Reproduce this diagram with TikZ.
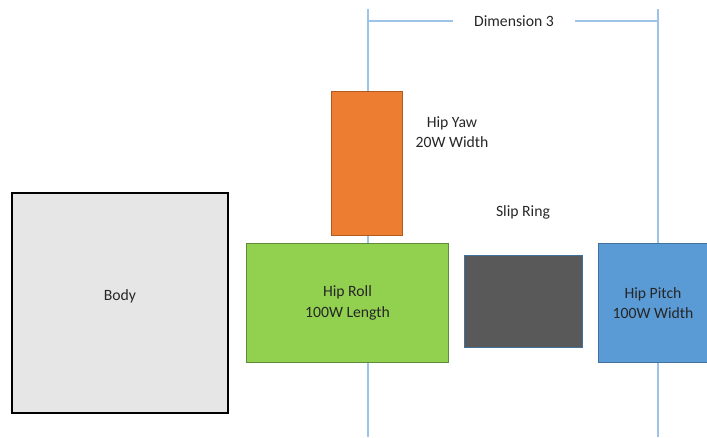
\documentclass[tikz,border=0pt]{standalone}
\usepackage{fontspec}
\setmainfont{Carlito}

\definecolor{txt}{HTML}{262626}
\definecolor{dimline}{HTML}{9DC3E6}
\definecolor{bodyfill}{HTML}{E6E6E6}
\definecolor{rollfill}{HTML}{92D050}
\definecolor{rollline}{HTML}{5E8A3A}
\definecolor{yawfill}{HTML}{ED7D31}
\definecolor{yawline}{HTML}{AE5A21}
\definecolor{ringfill}{HTML}{595959}
\definecolor{pitchfill}{HTML}{5B9BD5}
\definecolor{pitchline}{HTML}{41719C}

\tikzset{
  lbl/.style={font=\fontsize{15.7}{20.5}\selectfont, text=txt, align=center},
  part/.style={lbl, draw, line width=1pt, inner sep=0pt, anchor=north west},
  dim/.style={draw=dimline, line width=1.1pt}
}

\begin{document}
\begin{tikzpicture}[x=1pt, y=-1pt]
  \useasboundingbox (0,0) rectangle (707,437);
  \clip (0,0) rectangle (707,437);

  % dimension lines, behind the parts
  \coordinate (yawtop) at (368,9);
  \coordinate (yawbot) at (368,437);
  \coordinate (pitchtop) at (658,9);
  \coordinate (pitchbot) at (658,437);
  \draw[dim] (yawtop) -- (yawbot);
  \draw[dim] (pitchtop) -- (pitchbot);
  \node[lbl, inner xsep=21pt] (dimtext) at (514,21) {Dimension 3};
  \draw[dim] (yawtop |- dimtext) -- (dimtext.west);
  \draw[dim] (dimtext.east) -- (pitchtop |- dimtext);

  % parts
  \node[part, fill=bodyfill, draw=black, line width=1.8pt,
        minimum width=216pt, minimum height=220pt] (body) at (11,192)
        {\raisebox{2pt}[0pt][0pt]{Body}};
  \node[part, fill=rollfill, draw=rollline,
        minimum width=202pt, minimum height=119pt] (roll) at (246,243) {Hip Roll\\100W Length};
  \node[part, fill=yawfill, draw=yawline,
        minimum width=71pt, minimum height=144pt] (yaw) at (331,91) {};
  \node[part, fill=ringfill, draw=pitchline,
        minimum width=118pt, minimum height=92pt] (ring) at (464,255) {};
  \node[part, fill=pitchfill, draw=pitchline,
        minimum width=109pt, minimum height=119pt] (pitch) at (598,243) {Hip Pitch\\100W Width};

  % labels beside the parts
  \node[lbl] (yawlbl) at (452,132) {Hip Yaw\\20W Width};
  \node[lbl] (ringlbl) at (523,212) {Slip Ring};
\end{tikzpicture}
\end{document}
